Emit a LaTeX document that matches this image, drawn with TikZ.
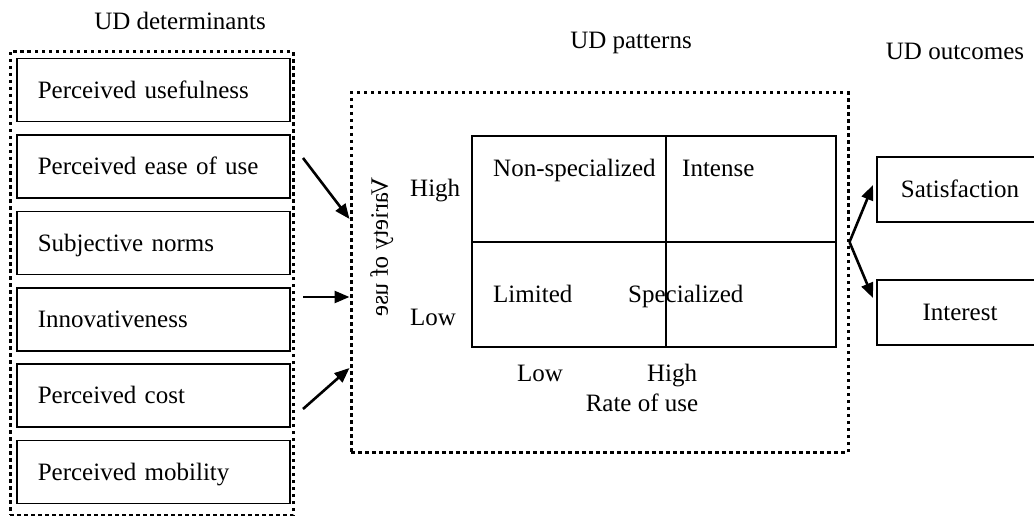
\documentclass[tikz,border=0pt]{standalone}
\usepackage{fontspec}
\setmainfont{Liberation Serif}
\usetikzlibrary{arrows.meta}
\begin{document}
\begin{tikzpicture}[x=1pt,y=-1pt,every node/.style={font=\fontsize{25}{30}\selectfont,inner sep=0pt,text height=20pt,text depth=3.5pt}]
        \tikzstyle{group} = [draw,line width=3pt,dash pattern=on 3.5pt off 3.5pt]
        \tikzstyle{box} = [draw,line width=1.6pt,minimum height=63pt]
        \tikzstyle{arr} = [line width=2.6pt,-{Triangle[length=15pt,width=12pt]}]
        \clip (0,0) rectangle (1034,516);
        % determinants
        \node (det) [group,minimum width=283pt,minimum height=463pt] at (151.5,283.5) {};
        \node at (180,21) {UD determinants};
        \foreach \i/\t in {1/Perceived usefulness,2/Perceived ease of use,3/Subjective norms,
                           4/Innovativeness,5/Perceived cost,6/Perceived mobility}{
          \node (d\i) [box,anchor=west,text width=231pt,inner xsep=21pt,align=left] at (16,13.6+76.4*\i) {\t};
        }
        % patterns
        \node (pat) [group,minimum width=497pt,minimum height=359pt] at (599.5,272.5) {};
        \node at (631,40.5) {UD patterns};
        \draw[line width=1.6pt] (472,136) rectangle (836,347) (666,136) -- (666,347) (472,242) -- (836,242);
        \node[anchor=west] at (493,168) {Non-specialized};
        \node[anchor=west] at (682,168) {Intense};
        \node[anchor=west] at (493,294.5) {Limited};
        \node[anchor=west] at (628,294.5) {Specialized};
        \node[anchor=west] at (410,188.5) {High};
        \node[anchor=west] at (410,317) {Low};
        \node[rotate=-90] at (396,247) {\scalebox{1}[-1]{Variety of use}};
        \node at (540,373) {Low};
        \node at (672,373) {High};
        \node at (642,403.5) {Rate of use};
        % outcomes
        \node at (955,51.5) {UD outcomes};
        \node (sat) [box,minimum width=166pt,minimum height=65pt] at (960,189.5) {Satisfaction};
        \node (int) [box,minimum width=166pt,minimum height=65pt] at (960,312.5) {Interest};
        % arrows
        \foreach \i/\a/\b in {1/158/219,2/297/297,3/409/368}{
          \coordinate (s\i) at (303,\a);
          \coordinate (e\i) at (pat.west |- 0,\b);
          \draw[arr] (s\i) -- (e\i);
        }
        \coordinate (split) at (pat.east |- 0,242);
        \coordinate (o1) at (873,185);
        \coordinate (o2) at (873,298);
        \draw[arr] (split) -- (o1);
        \draw[arr] (split) -- (o2);
      \end{tikzpicture}
\end{document}
